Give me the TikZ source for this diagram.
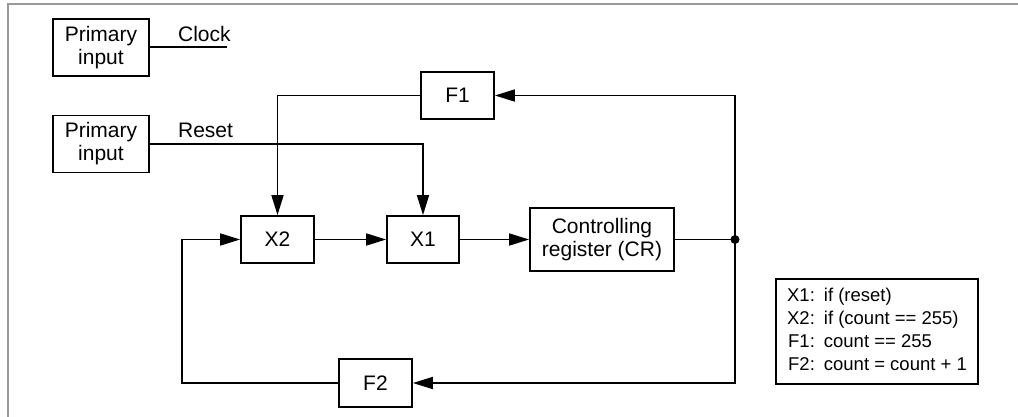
\documentclass[tikz,border=0pt]{standalone}
\usepackage{fontspec}
\setmainfont{Liberation Sans}
\usetikzlibrary{arrows.meta}

\begin{document}
\begin{tikzpicture}[x=1pt,y=-1pt,line width=1.6pt,
    every node/.style={font=\fontsize{21}{23}\selectfont},
    blk/.style={draw,line width=1.7pt,inner sep=0pt,align=center},
    arr/.style={-{Triangle[length=20pt,width=12pt]}}]
                \useasboundingbox (0,0) rectangle (1018,417);
                \draw[line width=2pt,gray!80] (8,417) -- (8,4) -- (1018,4);

                \node[blk,minimum width=96pt,minimum height=57pt] (pi1) at (101,47.5) {Primary\\input};
                \node[blk,minimum width=96pt,minimum height=57pt] (pi2) at (101,144) {Primary\\input};
                \node[blk,minimum width=73pt,minimum height=47pt] (f1) at (457.5,95.5) {F1};
                \node[blk,minimum width=73pt,minimum height=47pt] (x2) at (277.5,239.5) {X2};
                \node[blk,minimum width=72pt,minimum height=47pt] (x1) at (423,239.5) {X1};
                \node[blk,minimum width=144pt,minimum height=63pt] (cr) at (602,239.5) {Controlling\\register (CR)};
                \node[blk,minimum width=73pt,minimum height=48pt] (f2) at (375.5,383) {F2};
                \node[blk,minimum width=202pt,minimum height=105pt,font=\fontsize{18.5}{23}\selectfont] (key) at (877,331.5)
                    {\begin{tabular}{@{}r@{\hspace{9pt}}l@{}}
                     X1: & if (reset)\\
                     X2: & if (count == 255)\\
                     F1: & count == 255\\
                     F2: & count = count + 1
                     \end{tabular}};

                \node[anchor=base west] (clk) at (174,42) {Clock};
                \node[anchor=base west] (rst) at (174,138) {Reset};
                \coordinate (clkend) at (227,47);
                \coordinate (tap) at (735,239.5);
                \coordinate (lc) at (182,383);

                \draw (pi1.east |- clkend) -- (clkend);
                \draw[arr] (pi2.east) -| (x1.north);
                \draw[arr] (f1.west) -| (x2.north);
                \draw[arr] (x2) -- (x1);
                \draw[arr] (x1) -- (cr);
                \draw (cr) -- (tap);
                \fill (tap) circle (4.5pt);
                \draw[arr] (tap) |- (f1.east);
                \draw[arr] (tap) |- (f2.east);
                \draw[arr] (f2.west) -- (lc) |- (x2.west);
            \end{tikzpicture}
\end{document}
